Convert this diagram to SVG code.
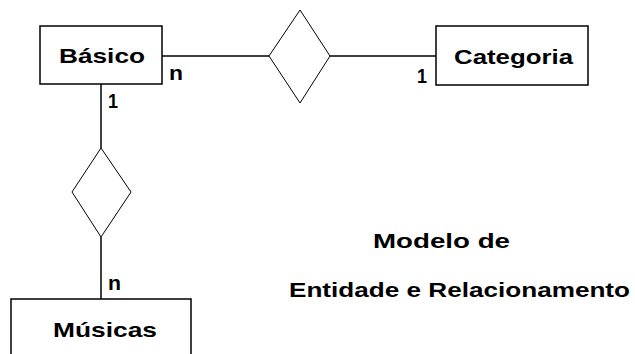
<svg xmlns="http://www.w3.org/2000/svg" width="635" height="354" viewBox="0 0 635 354">
<style>
.box{fill:#fff;stroke:#000;stroke-width:1.5}
.rel{fill:#fff;stroke:#000;stroke-width:1}
.ln{stroke:#000;stroke-width:1.5;fill:none}
text{font-family:"Liberation Sans",Arial,sans-serif;font-weight:bold;font-size:21px;fill:#000}
.card{font-size:20px}
</style>
<rect width="635" height="354" fill="#fff"/>
<g id="connectors">
<line class="ln" x1="162" y1="56" x2="269" y2="56"/>
<line class="ln" x1="330" y1="56" x2="436" y2="56"/>
<line class="ln" x1="101" y1="84" x2="101" y2="148"/>
<line class="ln" x1="101" y1="237" x2="101" y2="299"/>
<text class="card" x="169" y="80" textLength="14" lengthAdjust="spacingAndGlyphs">n</text>
<text class="card" x="417" y="83" textLength="10" lengthAdjust="spacingAndGlyphs">1</text>
<text class="card" x="108" y="108" textLength="10" lengthAdjust="spacingAndGlyphs">1</text>
<text class="card" x="108" y="290" textLength="13" lengthAdjust="spacingAndGlyphs">n</text>
</g>
<g id="basico">
<rect class="box" x="40" y="26" width="122" height="58"/>
<text x="59" y="63" textLength="86" lengthAdjust="spacingAndGlyphs">Básico</text>
</g>
<g id="categoria">
<rect class="box" x="436" y="26" width="152" height="59"/>
<text x="454" y="64" textLength="119" lengthAdjust="spacingAndGlyphs">Categoria</text>
</g>
<g id="musicas">
<rect class="box" x="11" y="299" width="180" height="70"/>
<text x="53" y="337" textLength="104" lengthAdjust="spacingAndGlyphs">Músicas</text>
</g>
<g id="rel-basico-categoria">
<polygon class="rel" points="300,10 330,56 300,103 269,56"/>
</g>
<g id="rel-basico-musicas">
<polygon class="rel" points="101,148 131,192 101,237 72,192"/>
</g>
<g id="title">
<text x="373" y="248" textLength="137" lengthAdjust="spacingAndGlyphs">Modelo de</text>
<text x="289" y="297" textLength="341" lengthAdjust="spacingAndGlyphs">Entidade e Relacionamento</text>
</g>
</svg>
